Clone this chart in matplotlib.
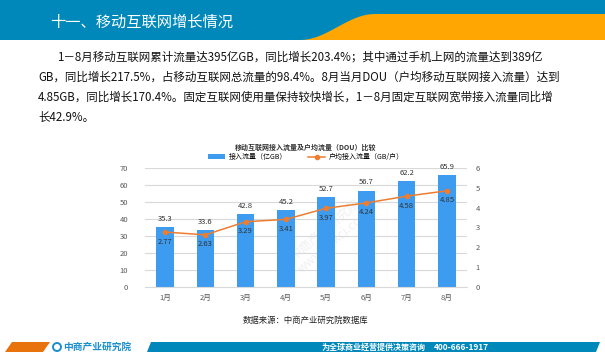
# -*- coding: utf-8 -*-
""" 移动互联网接入流量 chart
"""

import matplotlib.pyplot as plt
from matplotlib.patches import Polygon, Rectangle, Circle
import numpy as np

plt.rcParams["font.family"] = ["Noto Sans CJK SC", "DejaVu Sans"]

months = ["1月", "2月", "3月", "4月", "5月", "6月", "7月", "8月"]
traffic = [35.3, 33.6, 42.8, 45.2, 52.7, 56.7, 62.2, 65.9]
dou = [2.77, 2.63, 3.29, 3.41, 3.97, 4.24, 4.58, 4.85]

header_title = "十一、移动互联网增长情况"
paragraph = [
    "1－8月移动互联网累计流量达395亿GB，同比增长203.4%；其中通过手机上网的流量达到389亿",
    "GB，同比增长217.5%，占移动互联网总流量的98.4%。8月当月DOU（户均移动互联网接入流量）达到",
    "4.85GB，同比增长170.4%。固定互联网使用量保持较快增长，1－8月固定互联网宽带接入流量同比增",
    "长42.9%。",
]
chart_title = "移动互联网接入流量及户均流量（DOU）比较"
bar_label = "接入流量（亿GB）"
line_label = "户均接入流量（GB/户）"
source = "数据来源：中商产业研究院数据库"

bar_color = "#3E9CF0"
line_color = "#ED7D31"
tick_color = "#595959"
header_blue = "#0088BB"
header_orange = "#FFA602"

W, H = 605, 359
fig = plt.figure(figsize=(W / 100, H / 100), dpi=100)
fig.patch.set_facecolor("white")

# background decoration in pixel coordinates
bg = fig.add_axes([0, 0, 1, 1])
bg.set_xlim(0, W)
bg.set_ylim(H, 0)
bg.axis("off")

bg.add_patch(Rectangle((0, 0), W, 40, color=header_blue, lw=0))
t = np.linspace(0, 1, 30)
curve_x = 300 + 75 * t
curve_y = 40 - 26 * (0.5 - 0.5 * np.cos(np.pi * t))
orange_pts = list(zip(curve_x, curve_y)) + [(W, 14), (W, 40)]
bg.add_patch(Polygon(orange_pts, closed=True, color=header_orange, lw=0))
bg.text(50, 22, header_title, color="white", fontsize=11, va="center", ha="left")

line_y = [57, 77, 97, 117]
line_x = [57, 38, 38, 38]
for txt, x, y in zip(paragraph, line_x, line_y):
    bg.text(x, y, txt, fontsize=8.3, va="center", ha="left", color="#111111")

bg.text(306, 147, chart_title, fontsize=5, fontweight="bold", ha="center",
        va="center", color="#333333")
bg.text(306, 320, source, fontsize=6, ha="center", va="center", color="#222222")

# faint watermark
bg.text(330, 235, "中商产业研究院\nwww.askci.com", fontsize=9, rotation=40,
        color="#E6E6E6", ha="center", va="center", alpha=0.6, zorder=0)

# footer
bg.add_patch(Polygon([(5, 352), (12, 342), (50, 342), (43, 352)], closed=True,
                     color="#E8720C", lw=0))
bg.add_patch(Polygon([(147, 352), (151, 342), (600, 342), (596, 352)], closed=True,
                     color=header_blue, lw=0))
bg.add_patch(Circle((57, 347), 4, fill=False, ec="#1A8FD0", lw=1.4))
bg.text(63, 347, "中商产业研究院", fontsize=7, color="#1A8FD0", va="center",
        ha="left", fontweight="bold")
bg.text(322, 347, "为全球商业经营提供决策咨询", fontsize=5.8, color="white",
        va="center", ha="left", fontweight="bold")
bg.text(434, 347, "400-666-1917", fontsize=6, color="white", va="center",
        ha="left", fontweight="bold")

# main chart
ax = fig.add_axes([145 / W, 1 - 287 / H, 322 / W, 119 / H])
ax.patch.set_alpha(0)
x = np.arange(len(months))
bars = ax.bar(x, traffic, width=0.43, color=bar_color, zorder=2, label=bar_label)
ax.set_xlim(-0.5, len(months) - 0.5)
ax.set_ylim(0, 70)
ax.set_yticks(range(0, 71, 10))
ax.set_xticks(x)
ax.set_xticklabels(months)
ax.grid(axis="y", color="#D9D9D9", lw=0.8, zorder=0)
for s in ["top", "right", "left"]:
    ax.spines[s].set_visible(False)
ax.spines["bottom"].set_color("#D9D9D9")
ax.tick_params(length=0, labelsize=5.5, labelcolor=tick_color, pad=5)
ax.tick_params(axis="y", pad=12)

for xi, v in zip(x, traffic):
    ax.annotate("%.1f" % v, (xi, v), xytext=(0, 3), textcoords="offset points",
                ha="center", va="bottom", fontsize=5.5, color="#333333")

ax2 = ax.twinx()
ax2.plot(x, dou, color=line_color, lw=1.1, marker="o", markersize=3,
         zorder=3, label=line_label)
ax2.set_ylim(0, 6)
ax2.set_yticks(range(0, 7))
for s in ax2.spines.values():
    s.set_visible(False)
ax2.tick_params(length=0, labelsize=5.5, labelcolor=tick_color, pad=6)
for xi, v in zip(x, dou):
    ax2.annotate("%.2f" % v, (xi, v), xytext=(0, -4), textcoords="offset points",
                 ha="center", va="top", fontsize=5.5, color="#333333")

handles = [bars, ax2.get_lines()[0]]
fig.legend(handles, [bar_label, line_label], loc="center",
           bbox_to_anchor=(306 / W, 1 - 157 / H), ncol=2, frameon=False,
           fontsize=5, handlelength=2.5, columnspacing=3, handletextpad=0.5)

fig.savefig("out.png", dpi=100)
